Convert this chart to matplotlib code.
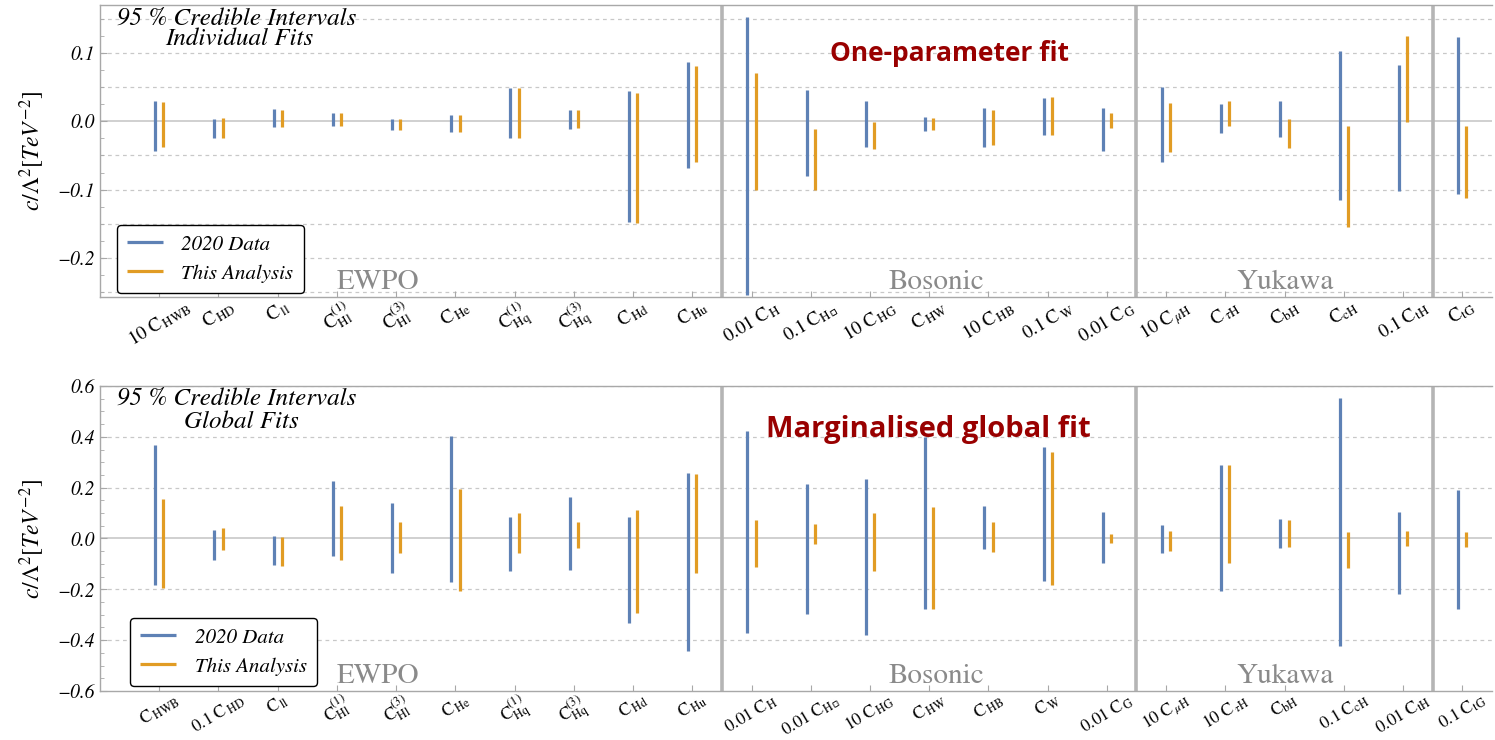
import matplotlib
matplotlib.use("Agg")
import matplotlib.pyplot as plt
import numpy as np
from matplotlib.ticker import MultipleLocator, FixedLocator, FuncFormatter

plt.rcParams['mathtext.fontset'] = 'stix'
plt.rcParams['font.family'] = ['STIXGeneral', 'DejaVu Serif']

# ---------------- data ----------------
group_names = ["EWPO", "Bosonic", "Yukawa"]
group_sizes = [10, 7, 5, 1]

top_labels = [r"$10\ \mathrm{C}_{\,\mathrm{HWB}}$", r"$\mathrm{C}_{\,\mathrm{HD}}$", r"$\mathrm{C}_{\,\mathrm{ll}}$",
              r"$\mathrm{C}^{(1)}_{\mathrm{Hl}}$", r"$\mathrm{C}^{(3)}_{\mathrm{Hl}}$", r"$\mathrm{C}_{\,\mathrm{He}}$",
              r"$\mathrm{C}^{(1)}_{\mathrm{Hq}}$", r"$\mathrm{C}^{(3)}_{\mathrm{Hq}}$", r"$\mathrm{C}_{\,\mathrm{Hd}}$",
              r"$\mathrm{C}_{\,\mathrm{Hu}}$", r"$0.01\ \mathrm{C}_{\,\mathrm{H}}$", "$0.1\\ \\mathrm{C}_{\\mathrm{H}\\,\u25ab}$",
              r"$10\ \mathrm{C}_{\,\mathrm{HG}}$", r"$\mathrm{C}_{\,\mathrm{HW}}$", r"$10\ \mathrm{C}_{\,\mathrm{HB}}$",
              r"$0.1\ \mathrm{C}_{\,\mathrm{W}}$", r"$0.01\ \mathrm{C}_{\,\mathrm{G}}$", r"$10\ \mathrm{C}_{\,\mu\mathrm{H}}$",
              r"$\mathrm{C}_{\,\tau\mathrm{H}}$", r"$\mathrm{C}_{\mathrm{bH}}$", r"$\mathrm{C}_{\mathrm{cH}}$",
              r"$0.1\ \mathrm{C}_{\mathrm{tH}}$", r"$\mathrm{C}_{\mathrm{tG}}$"]

bot_labels = [r"$\mathrm{C}_{\,\mathrm{HWB}}$", r"$0.1\ \mathrm{C}_{\,\mathrm{HD}}$", r"$\mathrm{C}_{\,\mathrm{ll}}$",
              r"$\mathrm{C}^{(1)}_{\mathrm{Hl}}$", r"$\mathrm{C}^{(3)}_{\mathrm{Hl}}$", r"$\mathrm{C}_{\,\mathrm{He}}$",
              r"$\mathrm{C}^{(1)}_{\mathrm{Hq}}$", r"$\mathrm{C}^{(3)}_{\mathrm{Hq}}$", r"$\mathrm{C}_{\,\mathrm{Hd}}$",
              r"$\mathrm{C}_{\,\mathrm{Hu}}$", r"$0.01\ \mathrm{C}_{\,\mathrm{H}}$", "$0.01\\ \\mathrm{C}_{\\mathrm{H}\\,\u25ab}$",
              r"$10\ \mathrm{C}_{\,\mathrm{HG}}$", r"$\mathrm{C}_{\,\mathrm{HW}}$", r"$\mathrm{C}_{\,\mathrm{HB}}$",
              r"$\mathrm{C}_{\,\mathrm{W}}$", r"$0.01\ \mathrm{C}_{\,\mathrm{G}}$", r"$10\ \mathrm{C}_{\,\mu\mathrm{H}}$",
              r"$10\ \mathrm{C}_{\,\tau\mathrm{H}}$", r"$\mathrm{C}_{\mathrm{bH}}$", r"$0.1\ \mathrm{C}_{\mathrm{cH}}$",
              r"$0.01\ \mathrm{C}_{\mathrm{tH}}$", r"$0.1\ \mathrm{C}_{\mathrm{tG}}$"]

# Individual fits (top)
top_2020_hi = [0.029, 0.004, 0.018, 0.012, 0.003, 0.009, 0.049, 0.016, 0.044, 0.087,
               0.153, 0.046, 0.030, 0.006, 0.019, 0.034, 0.020,
               0.050, 0.025, 0.030, 0.103, 0.082, 0.123]
top_2020_lo = [-0.043, -0.025, -0.008, -0.007, -0.013, -0.016, -0.025, -0.012, -0.148, -0.069,
               -0.254, -0.080, -0.037, -0.014, -0.037, -0.020, -0.044,
               -0.059, -0.017, -0.023, -0.115, -0.102, -0.106]
top_new_hi = [0.028, 0.005, 0.016, 0.012, 0.004, 0.009, 0.048, 0.016, 0.042, 0.081,
              0.070, -0.012, -0.001, 0.005, 0.016, 0.035, 0.012,
              0.027, 0.029, 0.004, -0.007, 0.124, -0.007]
top_new_lo = [-0.038, -0.025, -0.008, -0.007, -0.013, -0.016, -0.025, -0.010, -0.149, -0.059,
              -0.100, -0.100, -0.041, -0.013, -0.034, -0.020, -0.010,
              -0.045, -0.007, -0.039, -0.155, -0.001, -0.112]

# Global fits (bottom)
bot_2020_hi = [0.366, 0.034, 0.011, 0.228, 0.141, 0.405, 0.086, 0.163, 0.086, 0.259,
               0.422, 0.216, 0.233, 0.400, 0.128, 0.361, 0.105,
               0.053, 0.291, 0.078, 0.551, 0.105, 0.192]
bot_2020_lo = [-0.183, -0.086, -0.103, -0.067, -0.134, -0.172, -0.128, -0.124, -0.334, -0.442,
               -0.372, -0.296, -0.380, -0.276, -0.043, -0.166, -0.096,
               -0.059, -0.207, -0.038, -0.421, -0.218, -0.276]
bot_new_hi = [0.157, 0.042, 0.004, 0.126, 0.066, 0.196, 0.100, 0.066, 0.113, 0.255,
              0.074, 0.059, 0.099, 0.125, 0.066, 0.339, 0.017,
              0.030, 0.291, 0.072, 0.024, 0.030, 0.026]
bot_new_lo = [-0.196, -0.045, -0.107, -0.086, -0.058, -0.207, -0.059, -0.037, -0.293, -0.136,
              -0.114, -0.020, -0.129, -0.279, -0.054, -0.182, -0.016,
              -0.049, -0.095, -0.033, -0.116, -0.030, -0.032]

# ---------------- style ----------------
BLUE = "#5E81B5"
ORANGE = "#E19C24"
RED = "#990000"
GRIDC = "#c8c8c8"
SPINEC = "#a8a8a8"

fig = plt.figure(figsize=(14.95, 7.4), dpi=100)
ax1 = fig.add_axes([0.0669, 0.5986, 0.931, 0.3946])
ax2 = fig.add_axes([0.0669, 0.0662, 0.931, 0.4122])

x = np.arange(len(top_labels))
off = 0.07
seps = np.cumsum(group_sizes)[:-1] - 0.5
group_centers = [3.7, 13.13, 19.0]


def panel(ax, labels, b_lo, b_hi, o_lo, o_hi, ylim, major, minor, gridstep,
          title2, title2_x, title_y, title_dy, legend_anchor, red_text, red_xy, red_size,
          group_y, fmt, lab_size):
    ax.set_xlim(-1.0, 22.5)
    ax.set_ylim(*ylim)
    # grid
    gl = np.arange(-1.0, 1.0 + 1e-9, gridstep)
    for g in gl:
        if ylim[0] < g < ylim[1] and abs(g) > 1e-9:
            ax.axhline(g, color=GRIDC, lw=0.9, ls=(0, (3, 3)), zorder=0)
    ax.axhline(0, color="#d0d0d0", lw=1.4, zorder=0)
    for s in seps:
        ax.axvline(s, color="#b5b5b5", lw=2.6, zorder=1)
    ax.vlines(x - off, b_lo, b_hi, color=BLUE, lw=2.3, label="2020 Data", zorder=3)
    ax.vlines(x + off, o_lo, o_hi, color=ORANGE, lw=2.3, label="This Analysis", zorder=3)

    for sp in ["left", "bottom", "top"]:
        ax.spines[sp].set_color(SPINEC)
        ax.spines[sp].set_linewidth(1.0)
    ax.spines["right"].set_visible(False)

    ax.set_xticks(x)
    ax.set_xticklabels(labels, rotation=31, ha="center", va="top", fontsize=lab_size)
    ax.tick_params(axis="x", direction="in", length=4, color=SPINEC, pad=0)
    ax.yaxis.set_major_locator(MultipleLocator(major))
    ax.yaxis.set_minor_locator(MultipleLocator(minor))
    ax.yaxis.set_major_formatter(FuncFormatter(fmt))
    ax.tick_params(axis="y", which="major", direction="in", length=5, color=SPINEC,
                   labelsize=14)
    ax.tick_params(axis="y", which="minor", direction="in", length=3, color=SPINEC)
    for t in ax.get_yticklabels():
        t.set_fontstyle("italic")
    ax.set_ylabel(r"$c/\Lambda^2[TeV^{-2}]$", fontsize=17, labelpad=8)

    ax.text(0.012, title_y, "95 % Credible Intervals", transform=ax.transAxes,
            fontsize=18, style="italic", va="center", ha="left")
    ax.text(title2_x, title_y - title_dy, title2, transform=ax.transAxes,
            fontsize=18, style="italic", va="center", ha="left")

    leg = ax.legend(loc="lower left", bbox_to_anchor=legend_anchor, fancybox=True,
                    framealpha=1, edgecolor="black", prop={"style": "italic", "size": 15},
                    handlelength=1.7, borderpad=0.5, labelspacing=0.5, handletextpad=0.9,
                    borderaxespad=0)
    leg.get_frame().set_linewidth(1.0)

    for name, cx in zip(group_names, group_centers):
        ax.text(cx, group_y, name, fontsize=21, color="#8a8a8a", ha="center", va="center")

    ax.text(red_xy[0], red_xy[1], red_text, fontsize=red_size, color=RED, fontweight="bold",
            family="Open Sans", ha="center", va="center", zorder=5)


def fmt1(v, p):
    s = f"{v:.1f}"
    return s.replace("-", "\u2212")


panel(ax1, top_labels, top_2020_lo, top_2020_hi, top_new_lo, top_new_hi,
      (-0.257, 0.17), 0.1, 0.025, 0.05, "Individual Fits", 0.047, 0.955, 0.072,
      (0.012, 0.014), "One-parameter fit", (13.35, 0.099), 19, -0.236, fmt1, 13.5)

panel(ax2, bot_labels, bot_2020_lo, bot_2020_hi, bot_new_lo, bot_new_hi,
      (-0.6, 0.6), 0.2, 0.05, 0.2, "Global Fits", 0.060, 0.957, 0.075,
      (0.0216, 0.016), "Marginalised global fit", (12.98, 0.43), 21, -0.541, fmt1, 12.5)

fig.savefig("out.png", dpi=100)
